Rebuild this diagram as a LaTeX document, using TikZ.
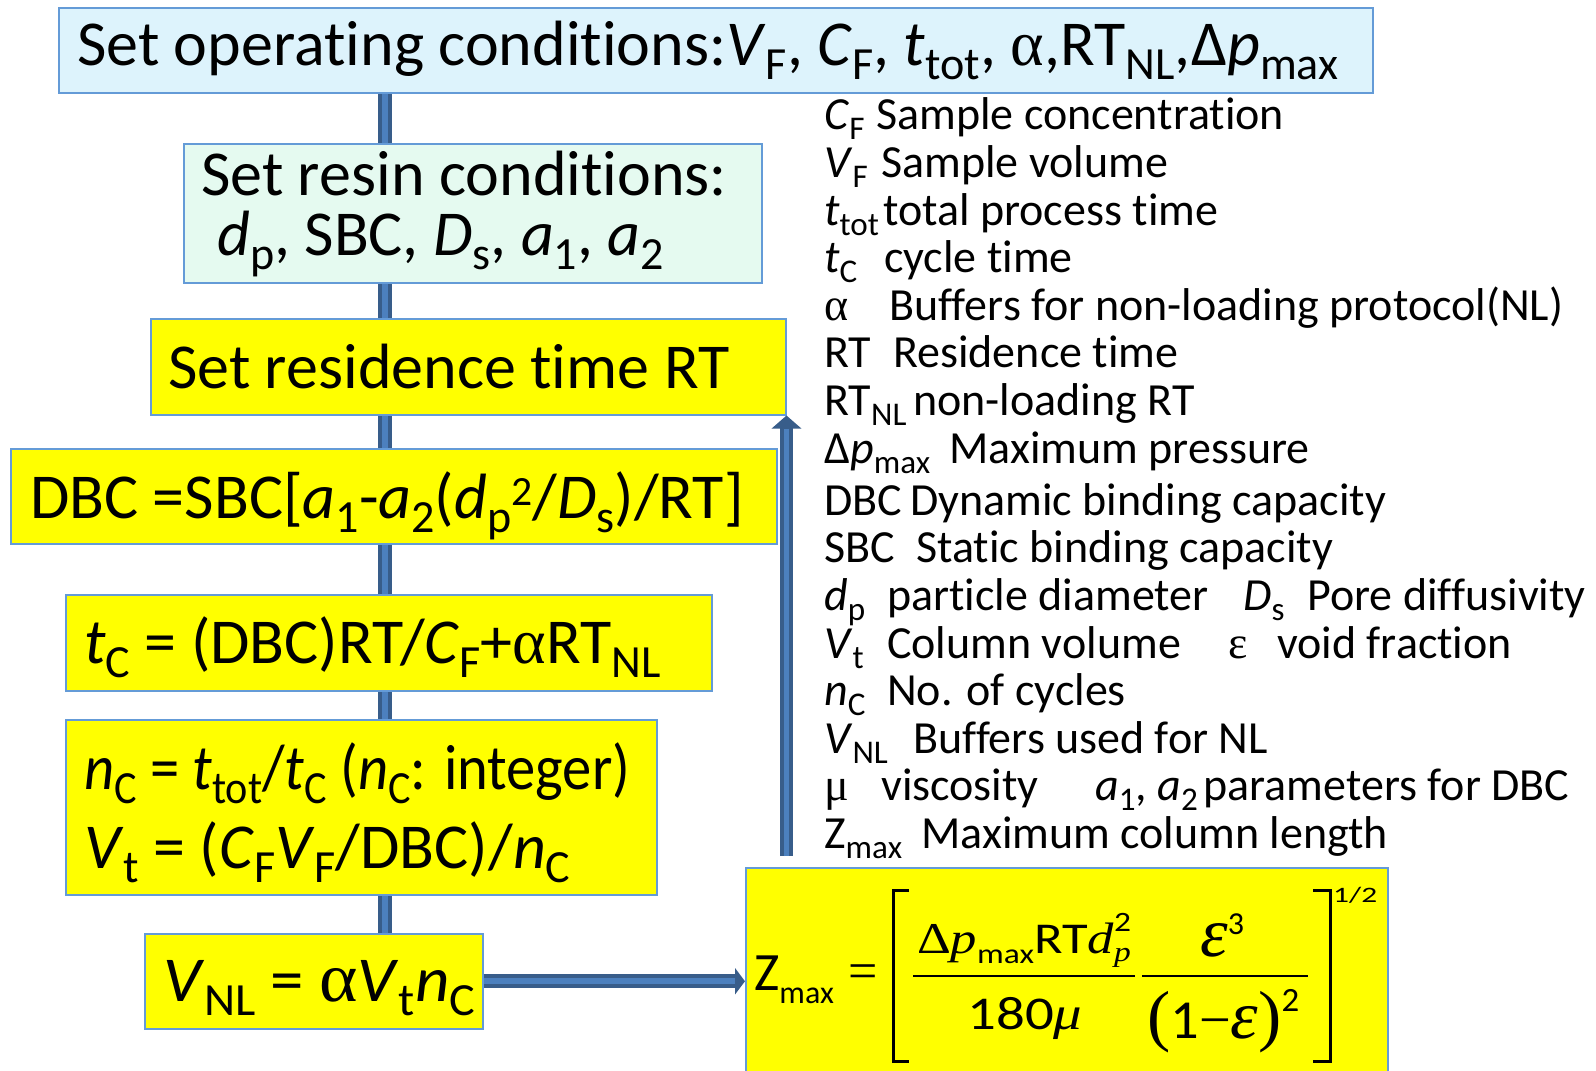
\documentclass[tikz,border=0pt]{standalone}
\usepackage{fontspec}
\usepackage{graphicx}
\setmainfont{Carlito}[Ligatures=NoCommon]
\newfontfamily\serifmath{Liberation Serif}
\usetikzlibrary{arrows.meta,backgrounds}
\makeatletter
\newcommand\sbs[1]{\raisebox{-0.23em}{\fontsize{\fpeval{0.72*\f@size}}{0}\selectfont #1}}
\newcommand\sps[1]{\raisebox{0.2em}{\fontsize{\fpeval{0.65*\f@size}}{0}\selectfont #1}}
\makeatother
\newcommand\fs[1]{\fontsize{#1}{#1}\selectfont}
\newcommand\alf{{\serifmath α}}
\definecolor{topfill}{RGB}{221,243,252}
\definecolor{resinfill}{RGB}{229,250,240}
\definecolor{boxyellow}{RGB}{255,255,0}
\definecolor{bordc}{RGB}{100,155,215}
\definecolor{bardark}{RGB}{56,93,138}
\definecolor{barlight}{RGB}{76,128,190}
\tikzset{
  box/.style={draw=bordc, line width=1.5pt, rectangle, inner sep=0pt, anchor=north west},
  txt/.style={anchor=base west, inner sep=0pt, font=\fs{64}},
  leg/.style={anchor=base west, inner sep=0pt, font=\fs{46}},
  bar/.style={draw=bardark, double=barlight, double distance=6pt, line width=4pt},
  brk/.style={line width=3pt, black},
  fbar/.style={line width=2pt, black},
}
\begin{document}
\begin{tikzpicture}[x=1pt,y=-1pt]
\useasboundingbox (0,0) rectangle (1596,1071);
\clip (0,0) rectangle (1596,1071);

% boxes
\node[box, fill=topfill, minimum width=1314pt, minimum height=85pt] (top) at (58,7) {};
\node[box, fill=resinfill, minimum width=578pt, minimum height=139pt] (resin) at (183,143) {};
\node[box, fill=boxyellow, minimum width=635pt, minimum height=96pt] (rt) at (150,318) {};
\node[box, fill=boxyellow, minimum width=766pt, minimum height=95pt] (dbc) at (10,448) {};
\node[box, fill=boxyellow, minimum width=646pt, minimum height=96pt] (tc) at (65,594) {};
\node[box, fill=boxyellow, minimum width=591pt, minimum height=175pt] (nc) at (65,719) {};
\node[box, fill=boxyellow, minimum width=338pt, minimum height=95pt] (vnl) at (144,933) {};
\node[box, fill=boxyellow, minimum width=642pt, minimum height=230pt] (zmax) at (745,867) {};

% main vertical bar (behind the boxes)
\coordinate (barx) at (385,0);
\begin{scope}[on background layer]
\fill[white] (0,0) rectangle (1596,1071);
\draw[bar] (top.south -| barx) -- (vnl.north -| barx);
\end{scope}

% box texts
\node[txt] (ttop) at (77,65) {Set operating conditions:\textit{V}\sbs{F}, \textit{C}\sbs{F}, \textit{t}\sbs{tot}, \alf,RT\sbs{NL},Δ\textit{p}\sbs{max}};
\node[txt] (tresin1) at (201,195) {Set resin conditions:};
\node[txt] (tresin2) at (217,255) {\textit{d}\sbs{p}, SBC, \textit{D}\sbs{s}, \textit{a}\sbs{1}, \textit{a}\sbs{2}};
\node[txt] (trt) at (168,388) {Set residence time RT};
\node[txt] (tdbc) at (30,518) {DBC =SBC[\textit{a}\sbs{1}-\textit{a}\sbs{2}(\textit{d}\sbs{p}\sps{2}/\textit{D}\sbs{s})/RT]};
\node[txt] (ttc) at (84,663) {\textit{t}\sbs{C} = (DBC)RT/\textit{C}\sbs{F}+\alf RT\sbs{NL}};
\node[txt] (tnc1) at (84,789) {\resizebox{546pt}{\height}{\textit{n}\sbs{C} = \textit{t}\sbs{tot}/\textit{t}\sbs{C} (\textit{n}\sbs{C}: integer)}};
\node[txt] (tnc2) at (84,868) {\textit{V}\sbs{t} = (\textit{C}\sbs{F}\textit{V}\sbs{F}/DBC)/\textit{n}\sbs{C}};
\node[txt] (tvnl) at (163,1001) {\resizebox{312pt}{\height}{\textit{V}\sbs{NL} = {\fs{70}\alf}\textit{V}\sbs{t}\textit{n}\sbs{C}}};

% arrows
\draw[line width=14pt, bardark, -{Triangle[length=10pt,width=26pt]}] (vnl.east) -- (vnl.east -| zmax.west);
\draw[line width=6pt, barlight, shorten >=10pt] (vnl.east) -- (vnl.east -| zmax.west);
\draw[line width=13pt, bardark, -{Triangle[length=13pt,width=29pt]}] ([yshift=11pt]zmax.north -| rt.south east) -- (rt.south east);
\draw[line width=5pt, barlight, shorten >=13pt] ([yshift=11pt]zmax.north -| rt.south east) -- (rt.south east);

% legend
\node[leg] (l1a) at (824,129) {\textit{C}\sbs{F}};
\node[leg] (l1b) at (876,129) {Sample concentration};
\node[leg] (l2a) at (824,177) {\textit{V}\sbs{F}};
\node[leg] (l2b) at (881,177) {Sample volume};
\node[leg] (l3a) at (824,225) {\textit{t}\sbs{tot}};
\node[leg] (l3b) at (883,225) {total process time};
\node[leg] (l4a) at (824,272) {\textit{t}\sbs{C}};
\node[leg] (l4b) at (884,272) {cycle time};
\node[leg] (l5a) at (824,320) {\alf};
\node[leg] (l5b) at (889,320) {Buffers for non-loading protocol(NL)};
\node[leg] (l6a) at (824,367) {RT};
\node[leg] (l6b) at (893,367) {Residence time};
\node[leg] (l7a) at (824,415) {RT\sbs{NL}};
\node[leg] (l7b) at (913,415) {non-loading RT};
\node[leg] (l8a) at (824,463) {Δ\textit{p}\sbs{max}};
\node[leg] (l8b) at (949,463) {Maximum pressure};
\node[leg] (l9a) at (824,515) {DBC};
\node[leg] (l9b) at (910,515) {Dynamic binding capacity};
\node[leg] (l10a) at (824,562) {SBC};
\node[leg] (l10b) at (916,562) {Static binding capacity};
\node[leg] (l11a) at (824,610) {\textit{d}\sbs{p}};
\node[leg] (l11b) at (887,610) {particle diameter};
\node[leg] (l11c) at (1243,610) {\textit{D}\sbs{s}};
\node[leg] (l11d) at (1307,610) {Pore diffusivity};
\node[leg] (l12a) at (824,658) {\textit{V}\sbs{t}};
\node[leg] (l12b) at (887,658) {Column volume};
\node[leg] (l12c) at (1228,658) {\serifmath ε};
\node[leg] (l12d) at (1277,658) {void fraction};
\node[leg] (l13a) at (824,705) {\textit{n}\sbs{C}};
\node[leg] (l13b) at (887,705) {No. of cycles};
\node[leg] (l14a) at (824,753) {\textit{V}\sbs{NL}};
\node[leg] (l14b) at (913,753) {Buffers used for NL};
\node[leg] (l15a) at (824,800) {\serifmath μ};
\node[leg] (l15b) at (881,800) {viscosity};
\node[leg] (l15c) at (1095,800) {\textit{a}\sbs{1}, \textit{a}\sbs{2}\hspace{0.12em}parameters for DBC};
\node[leg] (l16a) at (824,848) {Z\sbs{max}};
\node[leg] (l16b) at (921,848) {Maximum column length};

% formula
\node[anchor=base west, inner sep=0pt, font=\fs{54}] (fz) at (754,990) {Z{\fs{32}\raisebox{-13pt}{max}}};
\node[anchor=base, inner sep=0pt, font=\fs{52}\serifmath] (feq) at (863,988) {=};
\draw[brk] (909,890) -- (893,890) -- (893,1061) -- (909,1061);
\draw[brk] (1313,890) -- (1330,890) -- (1330,1061) -- (1313,1061);
\draw[fbar] (913,976) -- (1135,976);
\draw[fbar] (1142,976) -- (1308,976);
\node[anchor=base, inner sep=0pt, font=\fs{44}] (fnum1) at (1024,953)
  {\resizebox{214pt}{\height}{{\serifmath Δ\itshape p}{\fs{28}\raisebox{-10pt}{max}}RT{\serifmath\itshape d}\rlap{\raisebox{-8pt}{\fs{28}\serifmath\itshape p}}\raisebox{22pt}{\fs{28}2}}};
\node[anchor=base, inner sep=0pt, font=\fs{47}] (fden1) at (1025,1029)
  {\resizebox{115pt}{\height}{180{\serifmath\itshape μ}}};
\node[anchor=base west, inner sep=0pt, font=\fs{70}] (fnum2) at (1200,956)
  {{\serifmath\itshape ε}\raisebox{22pt}{\fs{32}3}};
\node[anchor=base west, inner sep=0pt, font=\fs{55}] (fden2) at (1147,1038)
  {\resizebox{152pt}{\height}{{\serifmath\fs{68}(}1{\serifmath−\fs{68}\itshape ε}{\serifmath\fs{68})}\raisebox{27pt}{\fs{34}2}}};
\node[anchor=base west, inner sep=0pt, font=\fs{22}] (fhalf) at (1333,902)
  {\resizebox{44pt}{\height}{1/2}};
\end{tikzpicture}
\end{document}
